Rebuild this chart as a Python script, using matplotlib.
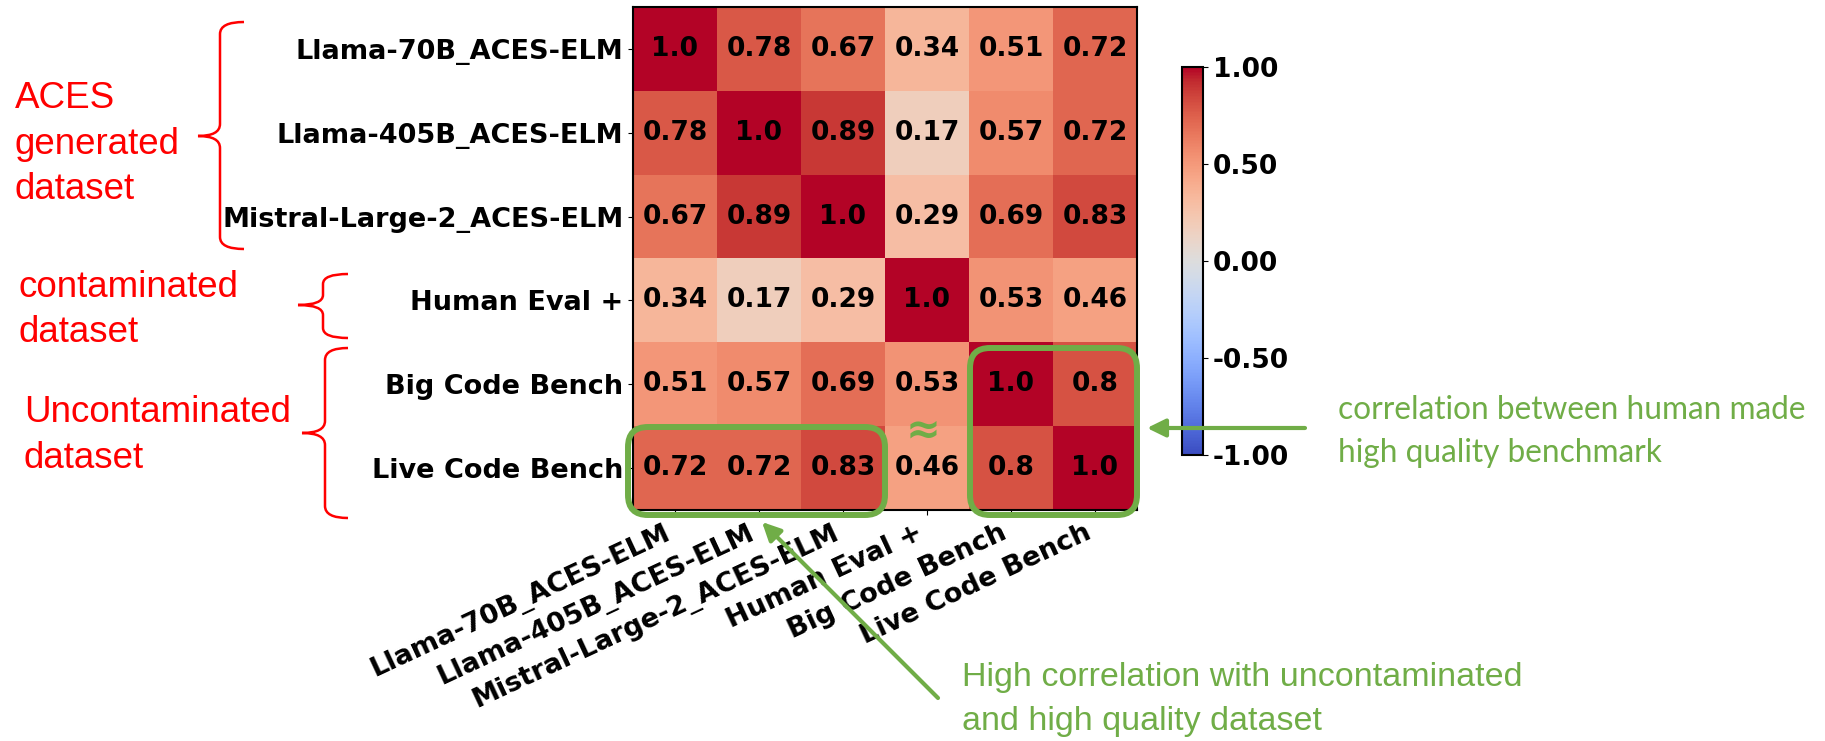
import matplotlib
matplotlib.use("Agg")
import numpy as np
import matplotlib.pyplot as plt
from matplotlib.path import Path
from matplotlib.patches import PathPatch, FancyBboxPatch

# data
labels = ["Llama-70B_ACES-ELM", "Llama-405B_ACES-ELM", "Mistral-Large-2_ACES-ELM",
          "Human Eval +", "Big Code Bench", "Live Code Bench"]

corr = [
    [1.0, 0.78, 0.67, 0.34, 0.51, 0.72],
    [0.78, 1.0, 0.89, 0.17, 0.57, 0.72],
    [0.67, 0.89, 1.0, 0.29, 0.69, 0.83],
    [0.34, 0.17, 0.29, 1.0, 0.53, 0.46],
    [0.51, 0.57, 0.69, 0.53, 1.0, 0.8],
    [0.72, 0.72, 0.83, 0.46, 0.8, 1.0],
]

cbar_ticks = [-1.0, -0.5, 0.0, 0.5, 1.0]

group_names = [["ACES", "generated", "dataset"],
               ["contaminated", "dataset"],
               ["Uncontaminated", "dataset"]]

note_right = ["correlation between human made", "high quality benchmark"]
note_bottom = ["High correlation with uncontaminated", "and high quality dataset"]

GREEN = "#70AD47"
RED = "#FF0000"
W, H = 1825, 741

fig = plt.figure(figsize=(W / 100, H / 100), dpi=100)


def px_axes(x0, y0, x1, y1):
    # axes placed with pixel coords (top-left origin)
    return fig.add_axes([x0 / W, 1 - y1 / H, (x1 - x0) / W, (y1 - y0) / H])


# heatmap
ax = px_axes(633, 7, 1137, 510)
data = np.array(corr)
im = ax.imshow(data, cmap="coolwarm", vmin=-1, vmax=1, aspect="auto")
n = len(labels)
for i in range(n):
    for j in range(n):
        ax.text(j, i, str(corr[i][j]), ha="center", va="center",
                fontsize=19, fontweight="bold", color="black")
ax.set_xticks(range(n))
ax.set_yticks(range(n))
ax.set_xticklabels(labels, rotation=25, ha="right", fontsize=19.5, fontweight="bold")
ax.set_yticklabels(labels, fontsize=19.5, fontweight="bold")
for sp in ax.spines.values():
    sp.set_linewidth(1.5)

# colorbar
cax = px_axes(1182, 67, 1203, 455)
cb = fig.colorbar(im, cax=cax, ticks=cbar_ticks)
cb.ax.set_yticklabels(["%.2f" % t for t in cbar_ticks], fontsize=19, fontweight="bold")
cb.outline.set_linewidth(1.5)

# overlay in pixel coords for the annotations
ov = fig.add_axes([0, 0, 1, 1])
ov.set_xlim(0, W)
ov.set_ylim(H, 0)
ov.axis("off")
ov.patch.set_visible(False)


def brace(x_end, x_spine, x_tip, y_top, y_mid, y_bot, r=12):
    verts = [(x_end, y_top), (x_spine, y_top), (x_spine, y_top + r),
             (x_spine, y_mid - r),
             (x_spine, y_mid), (x_tip, y_mid),
             (x_spine, y_mid), (x_spine, y_mid + r),
             (x_spine, y_bot - r),
             (x_spine, y_bot), (x_end, y_bot)]
    codes = [Path.MOVETO, Path.CURVE3, Path.CURVE3,
             Path.LINETO,
             Path.CURVE3, Path.CURVE3,
             Path.CURVE3, Path.CURVE3,
             Path.LINETO,
             Path.CURVE3, Path.CURVE3]
    ov.add_patch(PathPatch(Path(verts, codes), fill=False, ec=RED, lw=1.8))


brace(244, 220, 198, 22, 136, 249)
brace(348, 323, 298, 274, 305, 338, r=10)
brace(348, 325, 302, 348, 433, 518)

# red group names
group_pos = [(15, 108), (19, 297), (24, 422)]
for names, (gx, gy) in zip(group_names, group_pos):
    for k, s in enumerate(names):
        ov.text(gx, gy + k * 45.5, s, fontsize=26.5, color=RED,
                family=["Liberation Sans", "DejaVu Sans"], va="baseline", ha="left")

# green boxes
for (bx, by, bw, bh) in [(628, 427, 257, 88), (970, 348, 167, 167)]:
    ov.add_patch(FancyBboxPatch((bx, by), bw, bh,
                                boxstyle="round,pad=0,rounding_size=20",
                                fill=False, ec=GREEN, lw=4.3))

ov.text(923, 431, "\u2248", fontsize=30, fontweight="bold", color=GREEN,
        ha="center", va="center")

arrow = dict(arrowstyle="-|>,head_length=0.55,head_width=0.27", color=GREEN,
             lw=3, shrinkA=0, shrinkB=0, mutation_scale=20)
ov.annotate("", xy=(1147, 428), xytext=(1305, 428), arrowprops=arrow)
ov.annotate("", xy=(762, 522), xytext=(938, 698), arrowprops=arrow)

for k, s in enumerate(note_right):
    ov.text(1338, 419 + k * 43, s, fontsize=22.8, color=GREEN,
            family=["Lato", "DejaVu Sans"], va="baseline", ha="left")

for k, s in enumerate(note_bottom):
    ov.text(962, 686 + k * 44, s, fontsize=24.5, color=GREEN,
            family=["Liberation Sans", "DejaVu Sans"], va="baseline", ha="left")

fig.savefig("out.png", dpi=100)
